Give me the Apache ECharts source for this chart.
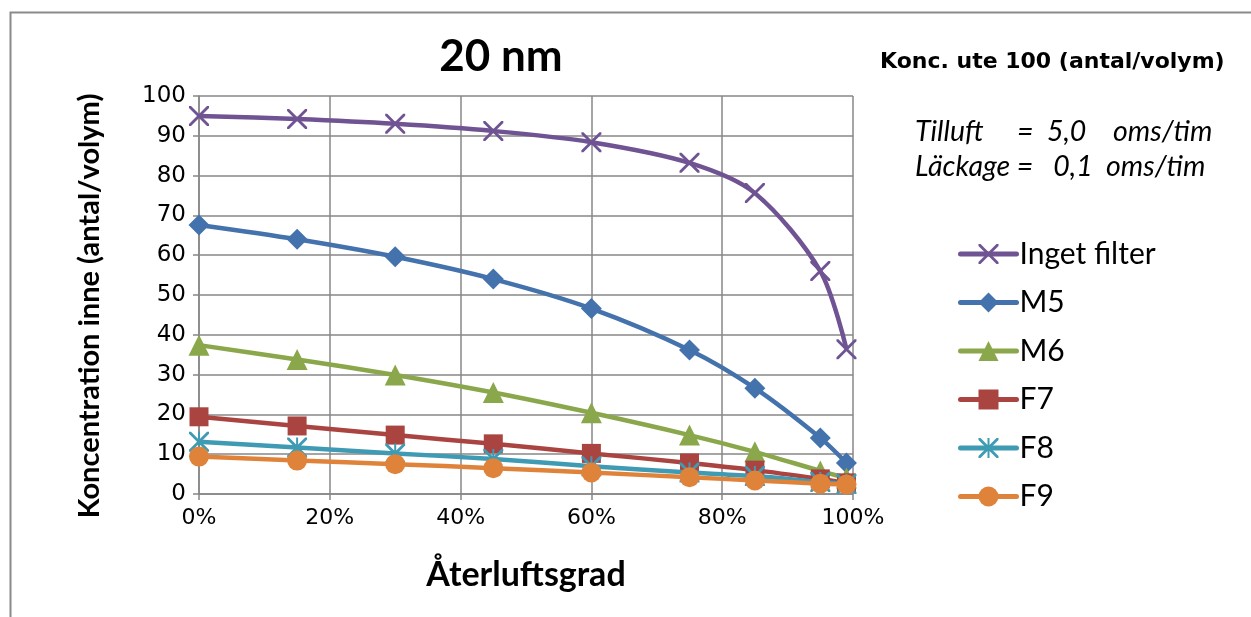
<!DOCTYPE html>
<html>
<head>
<meta charset="utf-8">
<script src="https://cdn.jsdelivr.net/npm/echarts@6/dist/echarts.min.js"></script>
<style>html,body{margin:0;padding:0;background:#fff}#c{width:1251px;height:617px}</style>
</head>
<body>
<div id="c"></div>
<script>
const xValues = [0, 15, 30, 45, 60, 75, 85, 95, 99];
const seriesNames = ['Inget filter', 'M5', 'M6', 'F7', 'F8', 'F9'];
const ingetFilter = [95.0, 94.2, 93.0, 91.2, 88.4, 83.2, 75.6, 56.0, 36.4];
const m5 = [67.6, 64.0, 59.6, 54.0, 46.6, 36.2, 26.6, 14.1, 7.8];
const m6 = [37.4, 33.8, 29.9, 25.5, 20.4, 14.8, 10.6, 5.8, 4.0];
const f7 = [19.4, 17.1, 14.8, 12.6, 10.2, 7.8, 6.0, 3.8, 2.8];
const f8 = [13.1, 11.7, 10.2, 8.8, 7.0, 5.4, 4.5, 3.0, 2.5];
const f9 = [9.4, 8.4, 7.5, 6.5, 5.4, 4.2, 3.4, 2.6, 2.4];
const yTicks = [0, 10, 20, 30, 40, 50, 60, 70, 80, 90, 100];
const xTicks = [0, 20, 40, 60, 80, 100];

const colors = ['#6f5393', '#4472ad', '#8aa84b', '#aa4440', '#3f9bb3', '#e0833a'];
const xPath = 'path://M0,0 L2,0 L10,8 L18,0 L20,0 L20,2 L12,10 L20,18 L20,20 L18,20 L10,12 L2,20 L0,20 L0,18 L8,10 L0,2 Z';
const starPath = 'path://M0,0 L2,0 L10,8 L18,0 L20,0 L20,2 L12,10 L20,18 L20,20 L18,20 L10,12 L2,20 L0,20 L0,18 L8,10 L0,2 Z M9,0 L11,0 L11,20 L9,20 Z';
const symbols = [xPath, 'diamond', 'triangle', 'rect', starPath, 'circle'];
const sizes = [20, 21, 21, 19, 20, 20];
const allData = [ingetFilter, m5, m6, f7, f8, f9];

const FONT = 'Lato, "Open Sans", sans-serif';
const WIDE = '"DejaVu Sans", sans-serif';

const chart = echarts.init(document.getElementById('c'), null, {renderer: 'canvas'});
chart.setOption({
  animation: false,
  backgroundColor: '#fff',
  title: {
    text: '20 nm', left: 496, top: 30, textAlign: 'center',
    textStyle: {fontFamily: FONT, fontSize: 44, fontWeight: 'bold', color: '#000'}
  },
  grid: {left: 199, right: 398, top: 96, bottom: 123},
  xAxis: {
    type: 'value', min: 0, max: 100, interval: 20,
    name: 'Återluftsgrad', nameLocation: 'middle', nameGap: 64,
    nameTextStyle: {fontFamily: FONT, fontSize: 34, fontWeight: 'bold', color: '#000'},
    axisLine: {show: true, lineStyle: {color: '#878787', width: 1.5}},
    axisTick: {show: true, length: 6, lineStyle: {color: '#878787', width: 1.5}},
    axisLabel: {formatter: '{value}%', fontFamily: WIDE, fontSize: 22, color: '#000', margin: 13},
    splitLine: {show: true, lineStyle: {color: '#878787', width: 1.5}}
  },
  yAxis: {
    type: 'value', min: 0, max: 100, interval: 10,
    name: 'Koncentration inne (antal/volym)', nameLocation: 'middle', nameGap: 95,
    nameTextStyle: {fontFamily: FONT, fontSize: 29, fontWeight: 'bold', color: '#000', padding: [0, 22, 0, 0]},
    axisLine: {show: true, lineStyle: {color: '#878787', width: 1.5}},
    axisTick: {show: true, length: 6, lineStyle: {color: '#878787', width: 1.5}},
    axisLabel: {fontFamily: WIDE, fontSize: 23, color: '#000', margin: 13},
    splitLine: {show: true, lineStyle: {color: '#878787', width: 1.5}}
  },
  legend: {
    orient: 'vertical', left: 958, top: 239, padding: 0, itemWidth: 56, itemHeight: 25, itemGap: 18.5,
    lineStyle: {width: 5, cap: 'round'},
    textStyle: {fontFamily: FONT, fontSize: 30, color: '#000', padding: [0, 0, 0, -2]},
    data: seriesNames
  },
  graphic: [
    {type: 'rect', shape: {x: 10.5, y: 12.5, width: 1400, height: 800}, style: {fill: 'none', stroke: '#8a8a8a', lineWidth: 2}, silent: true},
    {type: 'text', x: 880, y: 62, style: {text: 'Konc. ute 100 (antal/volym)', font: 'bold 22px ' + WIDE, fill: '#000', textVerticalAlign: 'middle'}},
    {type: 'text', x: 915, y: 132, style: {text: 'Tilluft     =  5,0    oms/tim', font: 'italic 28.5px ' + FONT, fill: '#000', textVerticalAlign: 'middle'}},
    {type: 'text', x: 915, y: 167, style: {text: 'Läckage =   0,1  oms/tim', font: 'italic 28.5px ' + FONT, fill: '#000', textVerticalAlign: 'middle'}}
  ],
  series: seriesNames.map((n, i) => ({
    name: n, type: 'line', smooth: 0.3,
    data: xValues.map((x, j) => [x, allData[i][j]]),
    symbol: symbols[i], symbolSize: sizes[i], showAllSymbol: true,
    lineStyle: {color: colors[i], width: 4.5},
    itemStyle: {color: colors[i], borderWidth: 0},
    z: 2 + i
  }))
});
</script>
</body>
</html>
